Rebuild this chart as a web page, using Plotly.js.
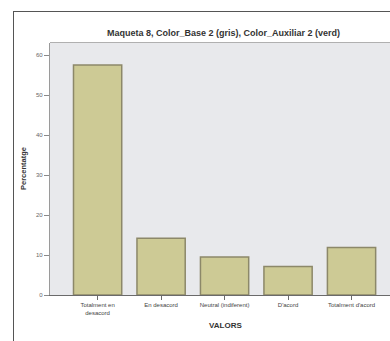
<!DOCTYPE html>
<html>
<head>
<meta charset="utf-8">
<script src="https://cdn.plot.ly/plotly-3.0.1.min.js"></script>
<style>
html,body{margin:0;padding:0;background:#fff;overflow:hidden;}
#wrap{position:relative;width:390px;height:341px;overflow:hidden;}
#chart{position:absolute;left:0;top:0;width:390px;height:341px;}
#frame{position:absolute;left:13px;top:11px;width:400px;height:360px;
  border-left:1.5px solid #555;border-top:1.5px solid #555;pointer-events:none;}
#plottop{position:absolute;left:50px;top:42px;width:340px;height:0;
  border-top:1px solid #b0b0b0;pointer-events:none;}
</style>
</head>
<body>
<div id="wrap">
<div id="chart"></div>
<div id="frame"></div>
<div id="plottop"></div>
</div>
<script>
const categories = ["Totalment en<br>desacord", "En desacord", "Neutral (indiferent)", "D'acord", "Totalment d'acord"];
const percentages = [57.5, 14.2, 9.5, 7.1, 11.9];
const yTickValues = [0, 10, 20, 30, 40, 50, 60];
const yTickLabels = ["0", "10", "20", "30", "40", "50", "60"];
const chartTitle = 'Maqueta 8, Color_Base 2 (gris), Color_Auxiliar 2 (verd)';
const xTitle = 'VALORS';
const yTitle = 'Percentatge';

const trace = {
  type: 'bar',
  x: categories,
  y: percentages,
  marker: {color: '#cdca95', line: {color: '#8c8869', width: 1.5}},
  hoverinfo: 'none'
};

const layout = {
  width: 390, height: 341,
  margin: {l: 50, r: 0, t: 43, b: 46, pad: 0, autoexpand: false},
  paper_bgcolor: '#ffffff',
  plot_bgcolor: '#e8e9ec',
  bargap: 0.24,
  showlegend: false,
  font: {family: 'Liberation Sans, Arial, sans-serif', color: '#333'},
  xaxis: {
    type: 'category',
    range: [-0.75, 4.606],
    showline: true, linecolor: '#6a6a6a', linewidth: 1.2,
    ticks: 'outside', ticklen: 4, tickcolor: '#6a6a6a',
    tickfont: {size: 6, color: '#444'},
    showgrid: false, zeroline: false
  },
  yaxis: {
    range: [0, 63],
    tickvals: yTickValues, ticktext: yTickLabels,
    showline: true, linecolor: '#9a9a9a', linewidth: 1.2,
    ticks: 'outside', ticklen: 5, tickcolor: '#8a8a8a',
    tickfont: {size: 6, color: '#666'},
    showgrid: false, zeroline: false
  },
  annotations: [
    {text: '<b>' + chartTitle + '</b>', xref: 'paper', yref: 'paper',
     x: 0.509, y: (295 - 33) / 252, xanchor: 'center', yanchor: 'middle',
     showarrow: false, font: {size: 9, color: '#333'}},
    {text: '<b>' + yTitle + '</b>', xref: 'paper', yref: 'paper',
     x: (23 - 50) / 340, y: 0.5, xanchor: 'center', yanchor: 'middle', textangle: -90,
     showarrow: false, font: {size: 7.5, color: '#333'}},
    {text: '<b>' + xTitle + '</b>', xref: 'paper', yref: 'paper',
     x: 0.515, y: (295 - 325) / 252, xanchor: 'center', yanchor: 'middle',
     showarrow: false, font: {size: 8, color: '#333'}}
  ]
};

Plotly.newPlot('chart', [trace], layout, {staticPlot: true, displayModeBar: false});
</script>
</body>
</html>
